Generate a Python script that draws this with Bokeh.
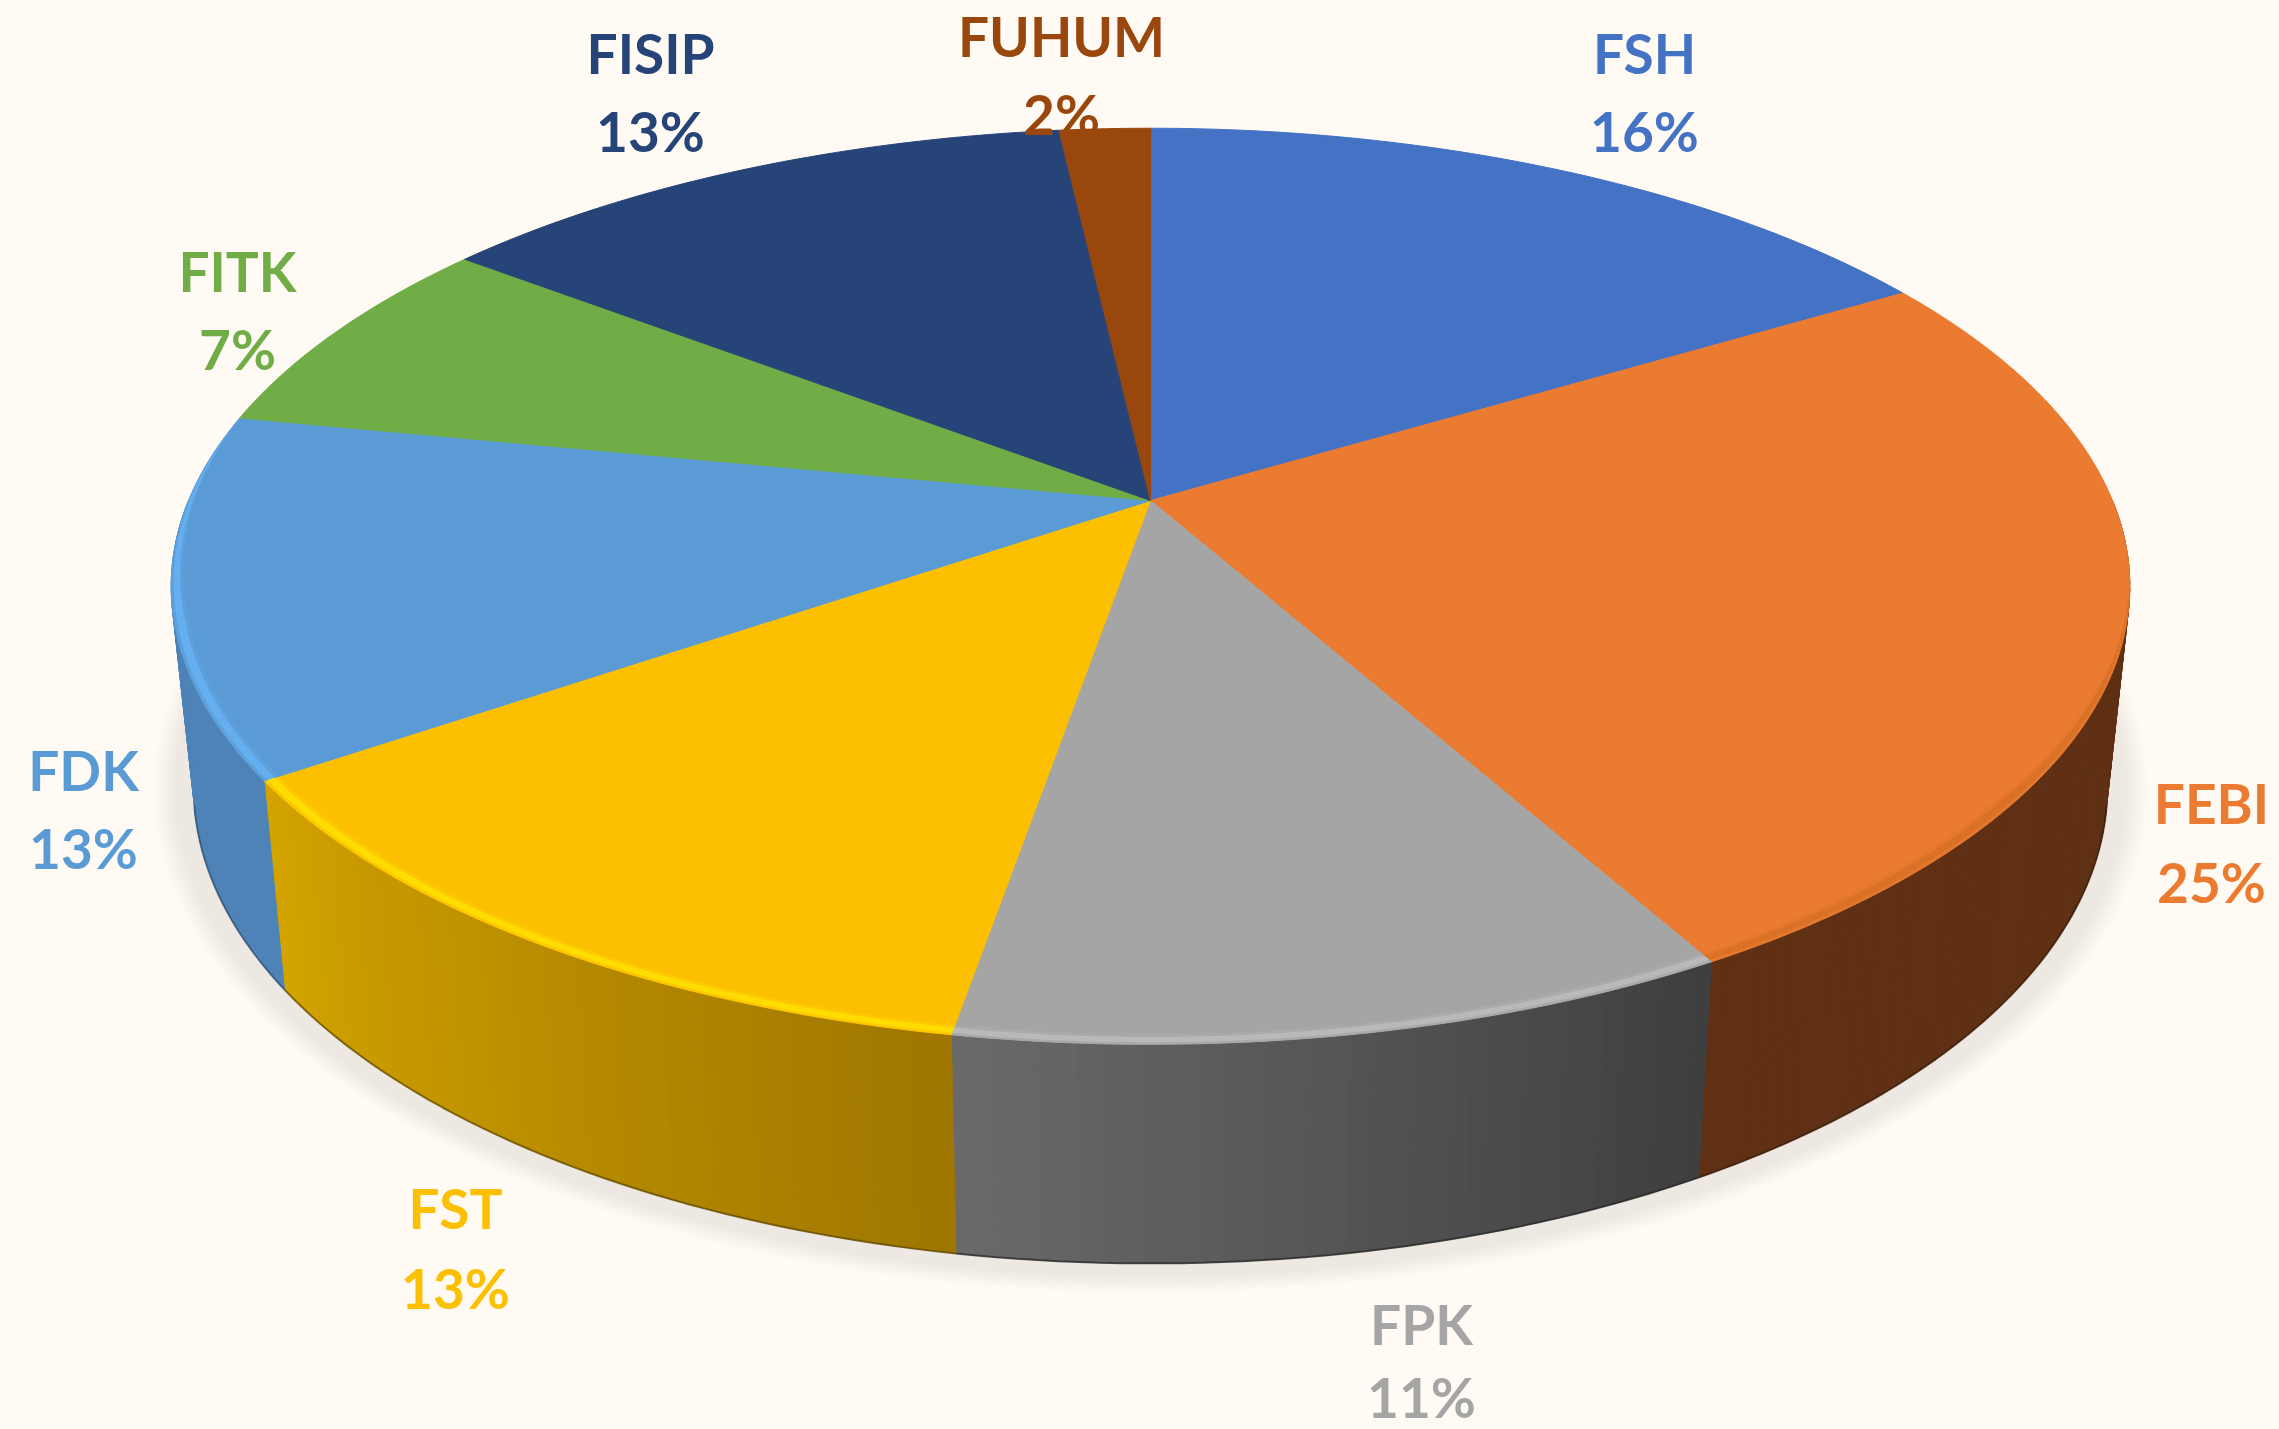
import math
from bokeh.plotting import figure
from bokeh.embed import file_html
from bokeh.resources import INLINE
from bokeh.core.properties import value

# ---- data ----
names = ["FSH", "FEBI", "FPK", "FST", "FDK", "FITK", "FISIP", "FUHUM"]
shares = [16.4, 25.49, 10.81, 12.7, 12.7, 7.3, 12.8, 1.8]

# ---- style ----
colors = ["#4472C4", "#EB7B31", "#A5A5A5", "#FCC000", "#5B9BD5", "#70AD47", "#264478", "#9A470D"]
side_left = ["#2F4F88", "#5F3013", "#6A6A6A", "#D4A400", "#4E83B8", "#4E7A32", "#1A3054", "#6C320A"]
side_right = ["#2F4F88", "#5F3013", "#3E3E3E", "#9E7600", "#4E83B8", "#4E7A32", "#1A3054", "#6C320A"]
rim_colors = [None, "#C9681F", "#BDBDBD", "#FFE000", "#66B0F2", None, None, None]
rim_strength = [0, 0.45, 0.8, 0.85, 0.85, 0, 0, 0]
BG = "#FFFAF3"

# label anchors in page pixels (centre x, baselines)
LIFT = 22
label_x = [1644, 2211, 1421, 455, 83, 237, 650, 1061]
label_y1 = [74, 824, 1345, 1229, 791, 292, 74, 57]
label_y2 = [152, 903, 1418, 1309, 869, 370, 152, 135]

# ---- geometry: perspective disc ----
CX, CY, A, B, E = 1150.0, 500.0, 962.0, 442.0, 0.1873
WIDTH, HEIGHT = 2279, 1429


def top(t, r=1.0):
    X, Y = r * math.sin(t), r * math.cos(t)
    s = 1.0 / (1.0 + E * Y)
    return CX + A * X * s, CY - B * Y * s


def bottom(t):
    x, y = top(t)
    drop = 219 + (y - 1043) * 0.04
    return CX + 0.977 * (x - CX), y + drop


def mix(c1, c2, f):
    a = [int(c1[i:i + 2], 16) for i in (1, 3, 5)]
    b = [int(c2[i:i + 2], 16) for i in (1, 3, 5)]
    return "#%02x%02x%02x" % tuple(round(p + (q - p) * f) for p, q in zip(a, b))


p = figure(width=WIDTH, height=HEIGHT, x_range=(0, WIDTH), y_range=(HEIGHT, 0),
           output_backend="svg", toolbar_location=None, min_border=0,
           background_fill_color=BG, border_fill_color=BG, outline_line_color=None)
p.axis.visible = False
p.grid.visible = False

# soft shadow: nested translucent outlines of the base disc
steps = 18
for i in range(steps):
    d = 42 - i * 1.3
    f = d / 980.0
    xs, ys = [], []
    for k in range(0, 360, 2):
        t = math.radians(k)
        x, y = bottom(t)
        xs.append(CX + (x - CX) * (1 + f))
        ys.append(738 + (y - 738) * (1 + f * 1.35))
    p.patch(xs, ys, fill_color="black", fill_alpha=0.0058, line_color=None)

# cumulative slice angles
bounds = [0.0]
for v in shares:
    bounds.append(bounds[-1] + v)
angles = [b / sum(shares) * 2 * math.pi for b in bounds]

# side wall: thin quads, shaded along each slice
for i in range(len(shares)):
    a0, a1 = angles[i], angles[i + 1]
    lo, hi = max(a0, math.radians(90)), min(a1, math.radians(270))
    if lo >= hi:
        continue
    n = max(2, int(math.degrees(hi - lo) / 1.0))
    qx, qy, qc = [], [], []
    for j in range(n):
        t0 = lo + (hi - lo) * j / n
        t1 = lo + (hi - lo) * (j + 1) / n
        x0, y0 = top(t0)
        x1, y1 = top(t1)
        x2, y2 = bottom(t1)
        x3, y3 = bottom(t0)
        qx.append([x0, x1, x2, x3])
        qy.append([y0, y1, y2, y3])
        qc.append(mix(side_right[i], side_left[i], (j + 0.5) / n))
    p.patches(qx, qy, fill_color=qc, line_color=qc, line_width=1)
    # darker lower edge, only where the base outline is actually visible
    elo, ehi = max(lo, math.radians(103)), min(hi, math.radians(257))
    if elo < ehi:
        ex, ey = zip(*[bottom(elo + (ehi - elo) * j / n) for j in range(n + 1)])
        p.line(list(ex), list(ey), line_color=mix(side_right[i], "#000000", 0.4), line_width=2, line_alpha=0.7)

# top face
for i in range(len(shares)):
    a0, a1 = angles[i], angles[i + 1]
    n = max(3, int(math.degrees(a1 - a0)))
    pts = [top(a0 + (a1 - a0) * j / n) for j in range(n + 1)]
    xs = [CX] + [q[0] for q in pts]
    ys = [CY] + [q[1] for q in pts]
    p.patch(xs, ys, fill_color=colors[i], line_color=colors[i], line_width=1)

# bevel along the front rim of the top face, tapering out towards both sides
FADE_LO, FADE_HI = math.radians(100), math.radians(282)


def taper(t):
    return min(1.0, (t - FADE_LO) / math.radians(28), (FADE_HI - t) / math.radians(28))


def band(lo, hi, r0, r1, color, alpha):
    n = max(3, int(math.degrees(hi - lo)))
    ts = [lo + (hi - lo) * j / n for j in range(n + 1)]
    outer = [top(t, 1 - (1 - r1) * taper(t)) for t in ts]
    inner = [top(t, 1 - (1 - r0) * taper(t)) for t in reversed(ts)]
    pts = outer + inner
    p.patch([q[0] for q in pts], [q[1] for q in pts], fill_color=color, fill_alpha=alpha, line_color=None)


for i in range(len(shares)):
    if rim_colors[i] is None:
        continue
    lo = max(angles[i], FADE_LO)
    hi = min(angles[i + 1], FADE_HI)
    band(lo, hi, 0.985, 1.0, rim_colors[i], 0.3 * rim_strength[i])
    band(lo, hi, 0.989, 0.997, rim_colors[i], rim_strength[i])

# labels
pct = [f"{round(v)}%" for v in shares]
font = dict(text_font=value("Lato"), text_font_style="bold", text_font_size="55px",
            text_align="center", text_baseline="alphabetic")
p.text(x=label_x, y=[y - LIFT for y in label_y1], text=names, text_color=colors, **font)
p.text(x=label_x, y=[y - LIFT for y in label_y2], text=pct, text_color=colors, **font)

html = file_html(p, INLINE)
html = html.replace("</head>", "<style>html,body{background:%s;}</style></head>" % BG, 1)
open("out.html", "w").write(html)
